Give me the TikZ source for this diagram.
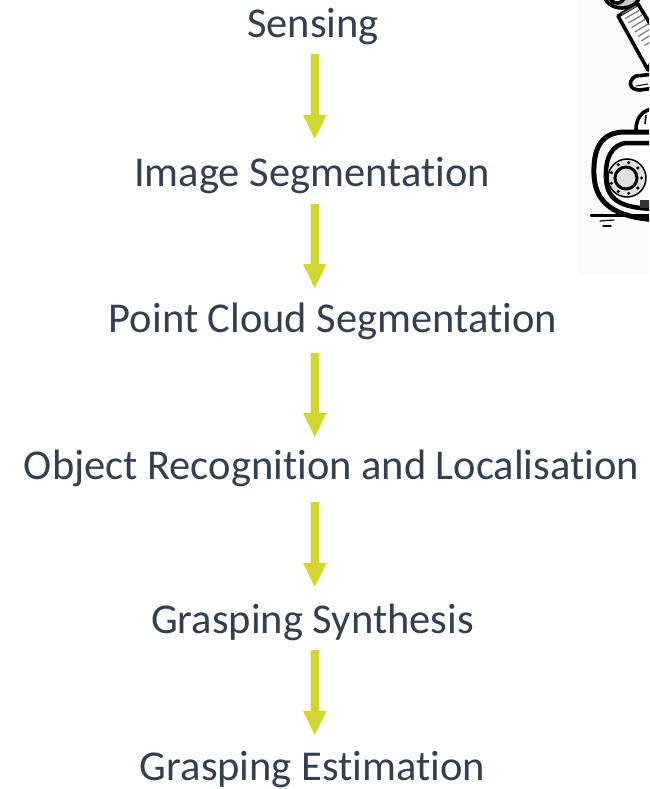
\documentclass[tikz,border=0pt]{standalone}
\usepackage{fontspec}
\setmainfont{Carlito}[Ligatures=NoCommon]
\definecolor{txt}{HTML}{333F4F}
\definecolor{arrowgreen}{HTML}{D2D62F}
\definecolor{inkgray}{HTML}{C8C8C8}
\definecolor{panel}{HTML}{FAFAFA}
\tikzset{
  stage/.style={anchor=base, text=txt, font=\fontsize{42.5}{48}\selectfont, inner sep=0pt},
  ink/.style={draw=black, line width=3.6pt, line join=round, line cap=round},
}
\newcommand{\flowarrow}[2]{% top y, tip y
  \fill[arrowgreen] (310.5,#1) rectangle (319,#2-24)
    (303,#2-24) -- (326.5,#2-24) -- (314.75,#2) -- cycle;
}
\begin{document}
\begin{tikzpicture}[x=1pt,y=-1pt]
\useasboundingbox (0,0) rectangle (649,789);

% robot sketch in the upper right corner
\begin{scope}
\clip (0,0) rectangle (649,789);
\fill[panel] (578,0) rectangle (649,275);
% elbow joint
\draw[ink, fill=inkgray] (622,-6) ellipse (18 and 14);
\draw[ink, fill=white] (617,-3) ellipse (7 and 6);
% upper arm with ribbed sleeve
\draw[ink, fill=white] (618,16) -- (638,4) -- (660,40) -- (648,70) -- cycle;
\foreach \i in {0,...,7}{
  \draw[inkgray!60!black, line width=1.2pt] (622+3.2*\i,14+4.5*\i) -- (636+3*\i,6+4.5*\i);
}
% gripper finger
\draw[ink, fill=white] (636,76) .. controls (628,80) and (628,90) .. (640,90)
  -- (655,88) -- (655,74) -- cycle;
\draw[line width=1pt] (636,86) -- (648,84);
% body dome
\draw[ink, fill=white] (636,130) .. controls (636,114) and (646,108) .. (660,108) -- (660,130);
\draw[line width=1.6pt] (645,124) -- (646,115);
% track
\draw[ink, line width=5pt, fill=white] (660,132) -- (625,132) .. controls (600,132) and (593,150) .. (594,175)
  .. controls (595,200) and (610,218) .. (660,220);
\draw[ink, line width=4.5pt, fill=white] (660,143) -- (628,143) .. controls (611,143) and (605,160) .. (606,178)
  .. controls (607,198) and (617,209) .. (660,209);
\fill[black!80] (640,200) rectangle (660,208);
% wheel
\draw[line width=1.5pt, fill=inkgray!55] (627,178) circle (19);
\draw[line width=3pt, fill=inkgray!55] (626,178) circle (11);
\foreach \a in {0,40,...,320}{
  \fill (626,178) ++(\a:15.5) circle (1.7);
}
% ground
\draw[line width=3pt, line cap=round] (591,215) -- (660,215);
\draw[line width=1.2pt, line cap=round] (600,221) -- (614,220);
\draw[line width=1.2pt, line cap=round] (603,226) -- (611,226);
\end{scope}

% pipeline stages
\node[stage] (s1) at (313,38) {Sensing};
\node[stage] (s2) at (312,186) {Image Segmentation};
\node[stage] (s3) at (333,332) {Point Cloud Segmentation};
\node[stage] (s4) at (331.5,479) {Object Recognition and Localisation};
\node[stage] (s5) at (312.5,633) {Grasping Synthesis};
\node[stage] (s6) at (312.5,780) {Grasping Estimation};

% arrows between stages
\flowarrow{54}{139}
\flowarrow{204}{288}
\flowarrow{353}{437}
\flowarrow{502}{587}
\flowarrow{650}{735}
\end{tikzpicture}
\end{document}
